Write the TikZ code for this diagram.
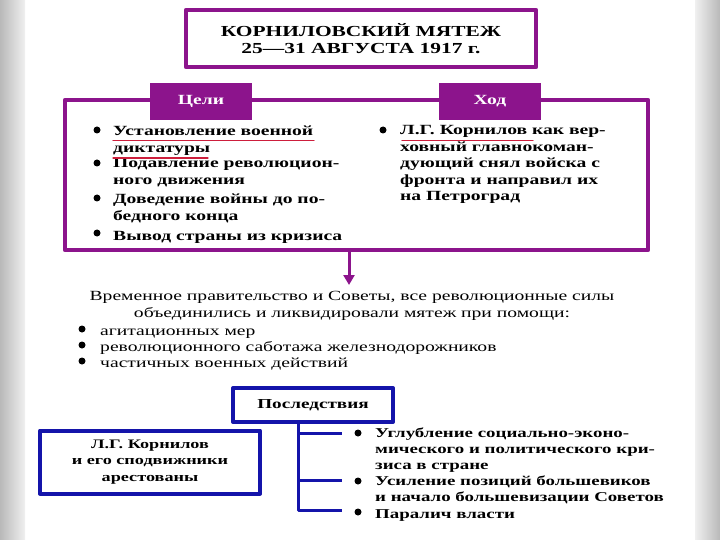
\documentclass[tikz,border=0pt]{standalone}
\usepackage{fontspec}
\setmainfont{Liberation Serif}[FakeStretch=1.4]
\usetikzlibrary{arrows.meta}
\definecolor{tim}{RGB}{140,20,140}
\definecolor{xanh}{RGB}{20,20,170}
\definecolor{do}{RGB}{205,30,60}
\begin{document}
\begin{tikzpicture}[x=1pt,y=-1pt,>=stealth,line join=round,line cap=round,font=\fontsize{14}{16.5}\selectfont,
	khung/.style={draw=tim,line width=4.5pt,fill=white},
	nhan/.style={fill=tim,text=white,minimum width=102pt,minimum height=37pt,font=\fontsize{14}{16}\selectfont\bfseries},
	khungxanh/.style={draw=xanh,line width=4pt,fill=white},
	chu/.style={anchor=north west,align=left,inner sep=0pt,execute at begin node=\strut}]
	\useasboundingbox (0,0) rectangle (720,540);
	% nền hai bên
	\fill[left color=gray!55,right color=gray!12] (0,0) rectangle (25,540);
	\fill[left color=gray!12,right color=gray!55] (695,0) rectangle (720,540);
	% tiêu đề
	\node[khung,minimum width=350pt,minimum height=57pt,align=center,font=\fontsize{15.3}{17}\selectfont\bfseries] (tieude) at (361,38.5) {КОРНИЛОВСКИЙ МЯТЕЖ\\25---31 АВГУСТА 1917 г.};
	% khung lớn + hai nhãn
	\node[khung,minimum width=583pt,minimum height=150pt] (khungto) at (356.5,175) {};
	\node[nhan] (muctieu) at (201,101.5) {Цели};
	\node[nhan] (dienbien) at (490,101.5) {Ход};
	\foreach \y/\t in {130/{Установление военной\\диктатуры},163/{Подавление революцион-\\ного движения},198/{Доведение войны до по-\\бедного конца},233/{Вывод страны из кризиса}
	}{\fill (97,\y) circle(3.5pt); \node[chu,font=\fontsize{14}{16.8}\selectfont\bfseries] (muc\y) at (113,\y-4.5) {\t};}
	\fill (383,130) circle(3.5pt);
	\node[chu,font=\fontsize{14}{16.5}\selectfont\bfseries] (hanhdong) at (400,125.5) {Л.Г. Корнилов как вер-\\ховный главнокоман-\\дующий снял войска с\\фронта и направил их\\на Петроград};
	\draw[do,line width=1.2pt] (113,140.5)--(314,140.5) (113,158)--(208,158) (402,140.5)--(533,140.5); % gạch chân
	% kết quả
	\node[align=center,inner sep=0pt] (ketqua) at (352,306) {Временное правительство и Советы, все революционные силы\\объединились и ликвидировали мятеж при помощи:};
	\coordinate (mui) at (349,285);
	\draw[tim,line width=3pt,-{Triangle[length=10pt,width=11pt]}] (khungto.south -| mui)--(mui);
	\foreach \y/\t in {329/агитационных мер,345/революционного саботажа железнодорожников,361/частичных военных действий
	}{\fill (82,\y) circle(3.5pt); \node[chu] (bp\y) at (100,\y-5) {\t};}
	% hậu quả
	\node[khungxanh,minimum width=160pt,minimum height=34pt,font=\fontsize{13.7}{16}\selectfont\bfseries] (hauqua) at (313,405) {Последствия};
	\node[khungxanh,minimum width=220pt,minimum height=63pt,align=center,font=\fontsize{13}{16.5}\selectfont\bfseries] (batgiu) at (150,462) {Л.Г. Корнилов\\и его сподвижники\\арестованы};
	\coordinate (truc) at (298,422);
	\foreach \i/\y in {1/433,2/480,3/510}{\coordinate (n\i) at (342,\y);}
	\foreach \i in {1,2,3}{\draw[xanh,line width=3pt,line cap=butt] (truc)|-(n\i);}
	\foreach \y/\t in {433/{Углубление социально-эконо-\\мического и политического кри-\\зиса в стране},481/{Усиление позиций большевиков\\и начало большевизации Советов},512/{Паралич власти}
	}{\fill (358,\y) circle(3.5pt); \node[chu,font=\fontsize{13.5}{16}\selectfont\bfseries] (hq\y) at (375,\y-5) {\t};}
\end{tikzpicture}
\end{document}
